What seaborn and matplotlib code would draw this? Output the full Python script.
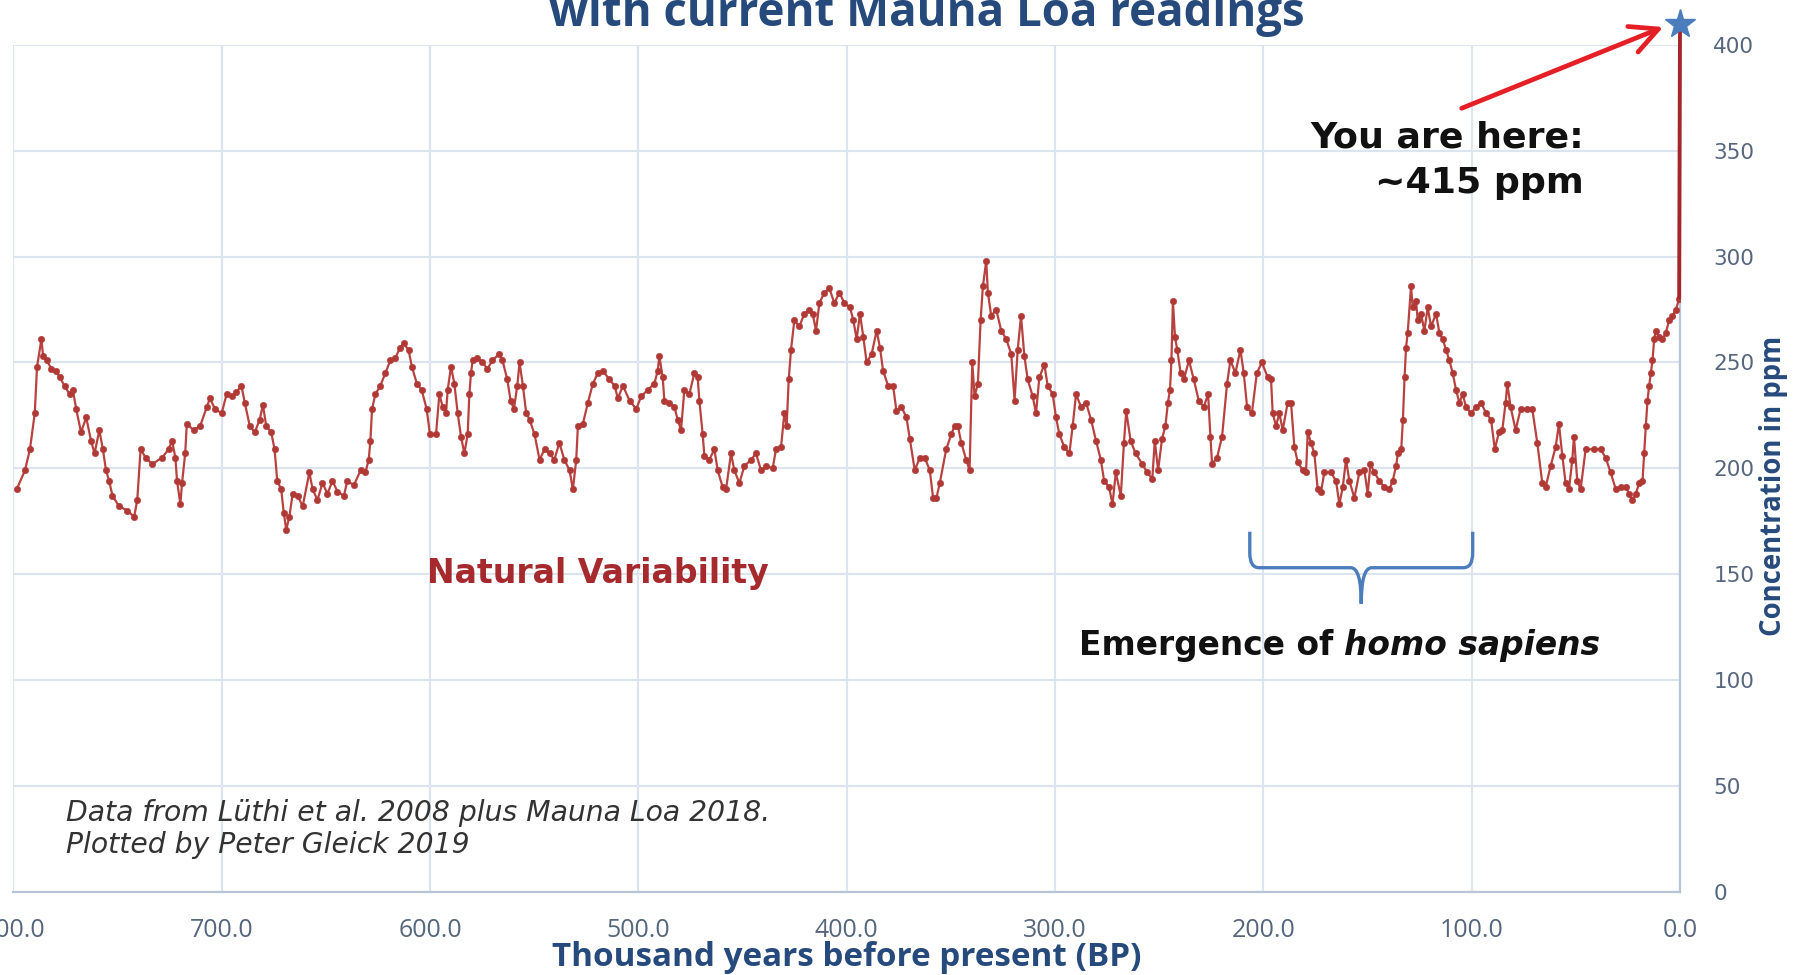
import matplotlib
matplotlib.use("Agg")
import matplotlib.pyplot as plt
import seaborn as sns
import pandas as pd
from matplotlib.path import Path
from matplotlib.patches import PathPatch

# ---------------- data ----------------
age_800_600 = [798.4, 794.4, 792.0, 789.7, 788.6, 786.5, 785.7, 784.0, 781.7, 779.4, 777.8, 775.4, 773.0,
               771.4, 769.8, 767.5, 765.0, 762.7, 761.0, 758.7, 757.0, 755.5, 754.0, 752.4, 749.2, 745.2,
               742.0, 740.5, 738.9, 736.5, 733.3, 728.6, 725.4, 723.8, 722.2, 721.4, 719.8, 719.0, 717.5,
               716.7, 713.5, 710.3, 707.1, 705.6, 703.2, 700.0, 697.6, 695.2, 692.9, 690.5, 688.9, 686.5,
               684.1, 681.7, 680.2, 678.6, 676.2, 674.6, 673.3, 671.4, 670.2, 669.0, 667.5, 665.9, 663.5,
               661.1, 657.9, 656.3, 654.0, 651.6, 649.2, 646.8, 644.4, 641.3, 639.7, 636.5, 633.3, 631.0,
               629.4, 628.6, 627.8, 626.2, 623.8, 621.4, 619.0, 616.7, 614.3, 612.7, 610.3, 608.7, 606.3,
               604.0, 601.6, 600.0]
co2_800_600 = [190, 199, 209, 226, 248, 261, 253, 251, 247, 246, 243, 239, 235,
               237, 228, 217, 224, 213, 207, 218, 209, 199, 194, 187, 182, 180,
               177, 185, 209, 205, 202, 205, 209, 213, 205, 194, 183, 193, 207,
               221, 218, 220, 229, 233, 228, 226, 235, 234, 236, 239, 231, 220,
               217, 223, 230, 220, 217, 209, 194, 190, 179, 171, 177, 188, 187,
               182, 198, 190, 185, 193, 188, 194, 189, 187, 194, 192, 199, 198,
               204, 213, 228, 235, 239, 245, 251, 252, 257, 259, 256, 248, 240,
               237, 228, 216]

age_600_400 = [597.1, 595.5, 593.9, 592.3, 591.5, 589.9, 588.3, 586.7, 585.1, 583.5, 581.9, 581.1, 580.3,
               579.5, 577.2, 574.8, 572.4, 570.0, 566.8, 565.2, 562.9, 561.3, 559.7, 558.1, 557.0, 555.4,
               553.8, 552.2, 549.8, 547.4, 545.0, 542.6, 540.3, 537.9, 535.5, 533.0, 531.4, 529.8, 529.0,
               526.6, 524.2, 521.8, 519.4, 517.0, 513.9, 511.4, 509.8, 507.4, 504.2, 501.0, 498.6, 495.5,
               492.3, 490.7, 489.9, 488.3, 487.5, 485.1, 482.7, 481.1, 479.5, 477.9, 475.5, 473.1, 471.5,
               470.7, 469.1, 468.3, 465.9, 463.5, 461.9, 459.5, 457.9, 455.5, 453.9, 451.5, 449.1, 445.9,
               443.5, 441.1, 438.7, 435.5, 433.9, 431.5, 429.9, 428.8, 427.8, 426.7, 425.1, 422.7, 420.3,
               417.9, 416.3, 414.7, 413.1, 410.7, 408.3, 405.9, 403.5, 401.1]
co2_600_400 = [216, 235, 229, 226, 237, 248, 240, 226, 215, 207, 216, 235, 245,
               251, 252, 250, 247, 251, 254, 251, 242, 232, 228, 239, 250, 239,
               226, 223, 216, 204, 209, 207, 204, 212, 204, 199, 190, 204, 220,
               221, 231, 240, 245, 246, 242, 239, 233, 239, 232, 228, 234, 237,
               240, 246, 253, 243, 232, 231, 229, 223, 218, 237, 235, 245, 243,
               232, 216, 206, 204, 209, 199, 191, 190, 207, 199, 193, 201, 204,
               207, 199, 201, 200, 209, 210, 226, 220, 242, 256, 270, 267, 273,
               275, 273, 265, 278, 283, 285, 278, 283, 278]

age_400_200 = [398.4, 396.8, 395.2, 393.6, 392.0, 390.4, 388.0, 385.6, 384.0, 382.5, 380.1, 377.7, 376.1,
               373.7, 371.3, 369.7, 367.3, 364.9, 362.5, 360.1, 358.5, 356.9, 355.3, 352.2, 349.8, 348.2,
               346.6, 345.0, 342.6, 341.0, 339.7, 338.6, 337.0, 335.7, 334.6, 333.0, 332.2, 330.6, 328.2,
               325.8, 323.4, 321.0, 319.4, 317.9, 316.3, 314.7, 313.1, 310.7, 309.1, 307.5, 305.1, 303.5,
               301.1, 299.5, 297.9, 295.5, 293.1, 291.5, 289.9, 287.5, 285.1, 282.7, 280.3, 278.0, 276.4,
               274.0, 272.4, 270.8, 268.4, 266.9, 265.8, 263.7, 261.3, 258.1, 255.7, 253.3, 252.1, 250.5,
               248.6, 247.0, 245.8, 244.8, 244.1, 243.4, 242.4, 241.3, 239.7, 238.1, 235.7, 233.4, 231.0,
               228.6, 226.5, 225.4, 224.6, 222.2, 219.8, 217.4, 215.8, 213.4, 211.0, 209.4, 207.8, 205.5,
               203.1, 200.7]
co2_400_200 = [276, 270, 261, 273, 262, 250, 254, 265, 257, 246, 239, 239, 227,
               229, 224, 214, 199, 205, 205, 199, 186, 186, 193, 209, 216, 220,
               220, 212, 204, 199, 250, 234, 240, 270, 286, 298, 283, 272, 275,
               265, 261, 254, 232, 256, 272, 253, 242, 234, 226, 243, 249, 239,
               235, 224, 216, 210, 207, 220, 235, 229, 231, 223, 213, 204, 194,
               191, 183, 198, 187, 212, 227, 213, 207, 202, 198, 195, 213, 199,
               214, 220, 231, 237, 251, 279, 262, 256, 245, 242, 251, 242, 232,
               229, 235, 215, 202, 205, 215, 240, 251, 245, 256, 245, 229, 226,
               245, 250]

age_200_0 = [197.9, 196.3, 195.5, 193.9, 192.3, 190.7, 188.3, 186.7, 185.1, 183.5, 181.1, 179.5, 178.7,
             177.1, 175.5, 173.9, 172.3, 170.7, 167.5, 165.1, 163.5, 161.9, 160.3, 158.7, 156.3, 153.9,
             151.5, 149.9, 148.6, 146.7, 144.3, 141.9, 139.5, 137.9, 136.3, 135.4, 133.8, 133.0, 132.2,
             131.5, 130.7, 129.1, 128.3, 126.7, 125.9, 124.3, 122.7, 121.1, 119.5, 117.1, 115.5, 113.9,
             112.3, 110.7, 109.1, 107.5, 105.9, 104.3, 102.7, 100.3, 97.9, 95.5, 93.1, 90.7, 88.9,
             86.9, 85.3, 83.7, 82.9, 81.3, 78.9, 76.5, 73.3, 70.9, 68.5, 66.1, 64.5, 62.1,
             59.7, 58.1, 56.5, 54.9, 53.3, 51.7, 50.9, 49.3, 47.7, 45.3, 41.3, 38.1, 35.7,
             33.3, 30.8, 28.4, 26.0, 24.4, 22.8, 21.2, 19.6, 18.0, 17.2, 16.4, 15.6, 14.8,
             14.0, 13.2, 12.4, 11.6, 10.0, 8.4, 6.8, 5.2, 3.6, 2.0, 0.4]
co2_200_0 = [243, 242, 226, 220, 226, 218, 231, 231, 210, 203, 199, 198, 217,
             212, 207, 190, 189, 198, 198, 194, 183, 191, 204, 194, 186, 198,
             199, 188, 202, 198, 194, 191, 190, 194, 201, 207, 209, 223, 243,
             257, 264, 286, 276, 279, 270, 273, 265, 276, 267, 273, 264, 261,
             256, 251, 245, 237, 231, 235, 229, 226, 229, 231, 226, 223, 209,
             217, 218, 231, 240, 229, 218, 228, 228, 228, 212, 193, 191, 201,
             210, 221, 206, 193, 190, 204, 215, 194, 190, 209, 209, 209, 205,
             198, 190, 191, 191, 188, 185, 188, 193, 194, 207, 220, 232, 239,
             245, 251, 261, 265, 262, 261, 264, 270, 272, 275, 280]

mauna_loa_age = [0.0]
mauna_loa_ppm = [410]

x_ticks = [800, 700, 600, 500, 400, 300, 200, 100, 0]
y_ticks = [0, 50, 100, 150, 200, 250, 300, 350, 400]

title_text = "with current Mauna Loa readings"
x_label = "Thousand years before present (BP)"
y_label = "Concentration in ppm"

# ---------------- styling ----------------
W, H = 1819, 975
NAVY = "#264a7c"
TICK = "#55667d"
GRID = "#dbe4ef"
SPINE = "#b7c4d5"
LINE = "#b8423f"
MARK = "#b03935"
LINK = "#a3262b"
ARROW = "#e41f26"
BLUE = "#4b7dbd"

sns.set_theme(style="white")
plt.rcParams["font.family"] = ["DejaVu Sans"]

fig = plt.figure(figsize=(W / 100, H / 100), dpi=100)
fig.patch.set_facecolor("white")

def fx(px):
    return px / W

def fy(py):
    return 1 - py / H

ax = fig.add_axes([fx(13.3), fy(891.5), (1680 - 13.3) / W, (891.5 - 45) / H])

age_kyr = age_800_600 + age_600_400 + age_400_200 + age_200_0
co2_ppm = co2_800_600 + co2_600_400 + co2_400_200 + co2_200_0
df = pd.DataFrame({"age": age_kyr, "co2": co2_ppm})

sns.lineplot(data=df, x="age", y="co2", ax=ax, color=LINE, linewidth=1.6,
             marker="o", markersize=4.6, markerfacecolor=MARK, markeredgecolor=MARK,
             markeredgewidth=0.4, estimator=None, sort=False, zorder=3)

# Mauna Loa link and star
ax.plot([age_kyr[-1], mauna_loa_age[0]], [co2_ppm[-1], mauna_loa_ppm[0]],
        color=LINK, lw=2.8, zorder=4, clip_on=False, solid_capstyle="butt")
ax.plot(mauna_loa_age, mauna_loa_ppm, linestyle="none", marker="*", markersize=22,
        color=BLUE, markeredgecolor=BLUE, zorder=6, clip_on=False)

ax.set_xlim(800, 0)
ax.set_ylim(0, 400)
ax.set_xticks(x_ticks)
ax.set_xticklabels([f"{v:.1f}" for v in x_ticks])
ax.set_yticks(y_ticks)
ax.set_yticklabels([str(v) for v in y_ticks])
ax.yaxis.tick_right()
ax.grid(True, color=GRID, lw=1.5)
ax.set_axisbelow(True)
for s in ["top", "left"]:
    ax.spines[s].set_visible(False)
for s in ["bottom", "right"]:
    ax.spines[s].set_visible(True)
    ax.spines[s].set_color(SPINE)
    ax.spines[s].set_linewidth(1.6)
ax.tick_params(axis="x", length=0, pad=19, labelsize=18, labelcolor=TICK)
ax.tick_params(axis="y", length=0, pad=24, labelsize=15.5, labelcolor=TICK)
for lab in ax.get_xticklabels():
    lab.set_family("Open Sans")
for lab in ax.get_yticklabels():
    lab.set_family("DejaVu Sans")
    lab.set_horizontalalignment("left")

ax.set_xlabel(x_label, fontsize=20, fontweight="bold", color=NAVY, family="Open Sans")
ax.set_ylabel(y_label, fontsize=20, fontweight="bold", color=NAVY, family="Open Sans")
ax.xaxis.label.set_verticalalignment("center")
ax.yaxis.set_label_position("right")
ax.yaxis.label.set_rotation(90)
ax.yaxis.label.set_verticalalignment("center")
ax.yaxis.label.set_horizontalalignment("center")
ax.xaxis.set_label_coords((847 - 13.3) / (1680 - 13.3), (891.5 - 958) / (891.5 - 45))
ax.yaxis.set_label_coords((1773 - 13.3) / (1680 - 13.3), (891.5 - 486) / (891.5 - 45))

# arrow "you are here"
ax.annotate("", xy=(8.0, 408.5), xytext=(104.8, 370.1), xycoords="data",
            arrowprops=dict(arrowstyle="->,head_length=0.9,head_width=0.45", color=ARROW,
                            lw=3.4, mutation_scale=22, shrinkA=0, shrinkB=0),
            annotation_clip=False, zorder=5)

# brace (homo sapiens)
verts = [(206.5, 170), (206.5, 160), (206.5, 153), (202.0, 153), (158.0, 153), (153.0, 153), (153.0, 136),
         (99.5, 170), (99.5, 160), (99.5, 153), (104.0, 153), (148.0, 153), (153.0, 153), (153.0, 136)]
codes = [Path.MOVETO, Path.LINETO, Path.CURVE3, Path.CURVE3, Path.LINETO, Path.CURVE3, Path.CURVE3,
         Path.MOVETO, Path.LINETO, Path.CURVE3, Path.CURVE3, Path.LINETO, Path.CURVE3, Path.CURVE3]
ax.add_patch(PathPatch(Path(verts, codes), facecolor="none", edgecolor=BLUE, lw=2.4, zorder=4))

# ---------------- texts ----------------
t_title = fig.text(fx(927), fy(26), title_text, ha="center", va="baseline",
                   fontsize=26, fontweight="bold", color=NAVY, family="Open Sans")
t_you1 = fig.text(fx(1584), fy(147), "You are here:", ha="right", va="baseline",
                  fontsize=20, fontweight="bold", color="#111111")
t_you2 = fig.text(fx(1584), fy(193), "~415 ppm", ha="right", va="baseline",
                  fontsize=20, fontweight="bold", color="#111111")
t_nat = fig.text(fx(598), fy(573), "Natural Variability", ha="center", va="center",
                 fontsize=20, fontweight="bold", color="#a6292d")
t_em1 = fig.text(fx(1079), fy(655), "Emergence of", ha="left", va="baseline",
                 fontsize=19, fontweight="bold", color="#111111")
t_cr1 = fig.text(fx(66), fy(821), "Data from Lüthi et al. 2008 plus Mauna Loa 2018.", ha="left",
                 va="baseline", fontsize=16, style="italic", color="#333333")
t_cr2 = fig.text(fx(66), fy(853), "Plotted by Peter Gleick 2019", ha="left",
                 va="baseline", fontsize=16, style="italic", color="#333333")

renderer = fig.canvas.get_renderer()

def fit(t, target, dim="w"):
    for _ in range(2):
        bb = t.get_window_extent(renderer)
        cur = bb.width if dim == "w" else bb.height
        t.set_fontsize(t.get_fontsize() * target / cur)

fit(t_title, 756)
fit(t_you1, 275)
t_you2.set_fontsize(t_you1.get_fontsize())
fit(t_nat, 342)
fit(t_cr1, 703)
t_cr2.set_fontsize(t_cr1.get_fontsize())
fit(ax.xaxis.label, 588)
fit(ax.yaxis.label, 300, dim="h")

# "Emergence of homo sapiens" with italic part
fs = t_em1.get_fontsize()
t_em2 = ax.annotate("homo sapiens", xy=(1, 0), xycoords=t_em1, xytext=(0.32 * fs, 0),
                    textcoords="offset points", ha="left", va="bottom",
                    fontsize=fs, fontweight="bold", style="italic", color="#111111")
for _ in range(2):
    fig.canvas.draw()
    b1 = t_em1.get_window_extent(renderer)
    b2 = t_em2.get_window_extent(renderer)
    total = b2.x1 - b1.x0
    fs = fs * 522 / total
    t_em1.set_fontsize(fs)
    t_em2.set_fontsize(fs)
    t_em2.xyann = (0.32 * fs, 0)

fig.savefig("out.png", dpi=100, facecolor="white")
